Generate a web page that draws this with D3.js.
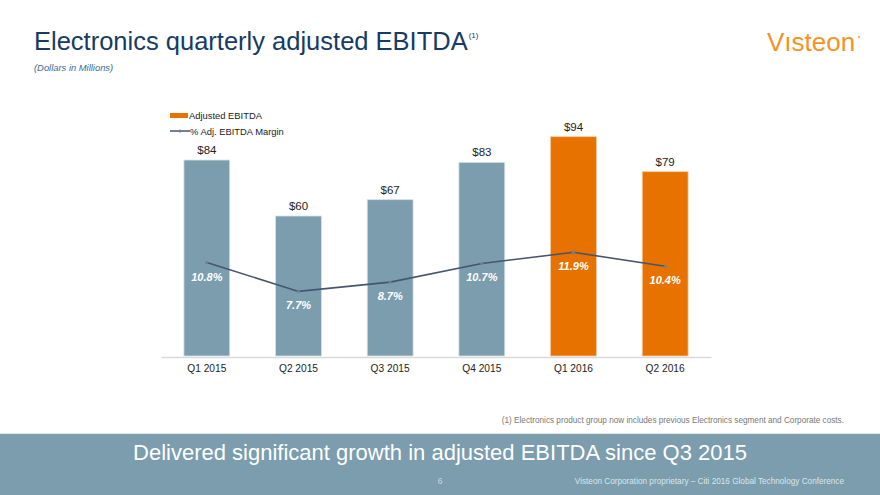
<!DOCTYPE html>
<html><head><meta charset="utf-8">
<script src="https://cdn.jsdelivr.net/npm/d3@7"></script>
<style>
html,body{margin:0;padding:0;background:#fff;}
svg{display:block;font-family:"Liberation Sans",Arial,Helvetica,sans-serif;}
</style></head>
<body>
<svg id="chart" width="880" height="495"></svg>
<script>
const categories = ["Q1 2015","Q2 2015","Q3 2015","Q4 2015","Q1 2016","Q2 2016"];
const ebitda = [84, 60, 67, 83, 94, 79];
const margin = [10.8, 7.7, 8.7, 10.7, 11.9, 10.4];
const highlight = [false, false, false, false, true, true];

const svg = d3.select("#chart");

// Title
const title = svg.append("text").attr("x", 34).attr("y", 49.5)
  .attr("fill", "#173b63").attr("font-size", 25.5);
title.append("tspan").text("Electronics quarterly adjusted EBITDA");
title.append("tspan").attr("font-size", 8).attr("dy", -12).attr("dx", 1).text("(1)");

svg.append("text").attr("x", 34).attr("y", 71).attr("fill", "#3d6a93")
  .attr("font-size", 9.4).attr("font-style", "italic").text("(Dollars in Millions)");

// Logo
svg.append("text").attr("x", 767).attr("y", 51).attr("fill", "#f39325")
  .attr("font-size", 26).text("Vısteon");
svg.append("circle").attr("cx", 859).attr("cy", 37).attr("r", 1.2).attr("fill", "#f6b46a");

// Scales
const x = d3.scaleBand().domain(categories).range([161, 711]).paddingInner(0.5).paddingOuter(0.25);
const y = d3.scaleLinear().domain([0, 100]).range([356, 122.7]);
const y2 = d3.scaleLinear().domain([0, 20]).range([363, 177]);

// Bars
svg.append("g").selectAll("rect").data(ebitda).join("rect")
  .attr("x", (d, i) => x(categories[i]))
  .attr("y", d => y(d))
  .attr("width", x.bandwidth())
  .attr("height", d => y(0) - y(d))
  .attr("fill", (d, i) => highlight[i] ? "#e77200" : "#7b9dad")
  .attr("stroke", (d, i) => highlight[i] ? "#f6c9a0" : "#d6e1e6")
  .attr("stroke-width", 0.8);

// Bar labels
svg.append("g").selectAll("text").data(ebitda).join("text")
  .attr("x", (d, i) => x(categories[i]) + x.bandwidth() / 2)
  .attr("y", d => y(d) - 6)
  .attr("text-anchor", "middle").attr("font-size", 11.5).attr("fill", "#222")
  .text(d => "$" + d);

// Axis
const xAxis = svg.append("g").attr("transform", "translate(0,357)")
  .call(d3.axisBottom(x).tickSize(0).tickPadding(8));
xAxis.select(".domain").attr("stroke", "#d9d9d9").attr("stroke-width", 1.6);
xAxis.selectAll("text").attr("font-size", 10.2).attr("fill", "#222")
  .attr("font-family", "Liberation Sans, Arial, sans-serif");

// Line
const line = d3.line().x((d, i) => x(categories[i]) + x.bandwidth() / 2).y(d => y2(d));
svg.append("path").datum(margin).attr("d", line).attr("fill", "none")
  .attr("stroke", "#46566c").attr("stroke-width", 1.6);
svg.append("g").selectAll("circle").data(margin).join("circle")
  .attr("cx", (d, i) => x(categories[i]) + x.bandwidth() / 2)
  .attr("cy", d => y2(d)).attr("r", 1.6).attr("fill", "#6f8094");

// Margin labels
svg.append("g").selectAll("text").data(margin).join("text")
  .attr("x", (d, i) => x(categories[i]) + x.bandwidth() / 2)
  .attr("y", d => y2(d) + 18)
  .attr("text-anchor", "middle").attr("font-size", 11).attr("font-weight", "bold")
  .attr("font-style", "italic").attr("fill", "#fff")
  .text(d => d.toFixed(1) + "%");

// Legend
svg.append("rect").attr("x", 170).attr("y", 113).attr("width", 18).attr("height", 5).attr("fill", "#e77200");
svg.append("text").attr("x", 189).attr("y", 119).attr("font-size", 9.4).attr("fill", "#222").text("Adjusted EBITDA");
svg.append("line").attr("x1", 170).attr("x2", 190).attr("y1", 131).attr("y2", 131)
  .attr("stroke", "#46566c").attr("stroke-width", 1.5);
svg.append("circle").attr("cx", 180).attr("cy", 131).attr("r", 1.5).attr("fill", "#6f8094");
svg.append("text").attr("x", 190).attr("y", 135).attr("font-size", 9.4).attr("fill", "#222").text("% Adj. EBITDA Margin");

// Footnote
svg.append("text").attr("x", 844).attr("y", 423).attr("text-anchor", "end")
  .attr("font-size", 8.2).attr("fill", "#777").text("(1)  Electronics product group now includes previous Electronics segment and Corporate costs.");

// Banner
svg.append("rect").attr("x", 0).attr("y", 434).attr("width", 880).attr("height", 61).attr("fill", "#7b9dad");
svg.append("line").attr("x1", 0).attr("x2", 880).attr("y1", 433.5).attr("y2", 433.5).attr("stroke", "#dfe6ea").attr("stroke-width", 1);
svg.append("text").attr("x", 440).attr("y", 460).attr("text-anchor", "middle")
  .attr("font-size", 22).attr("fill", "#fff").text("Delivered significant growth in adjusted EBITDA since Q3 2015");
svg.append("text").attr("x", 440).attr("y", 484).attr("text-anchor", "middle")
  .attr("font-size", 8.4).attr("fill", "#c9d7de").text("6");
svg.append("text").attr("x", 844).attr("y", 484).attr("text-anchor", "end")
  .attr("font-size", 8.2).attr("fill", "#dbe5ea").text("Visteon Corporation proprietary – Citi 2016 Global Technology Conference");
</script>
</body></html>
